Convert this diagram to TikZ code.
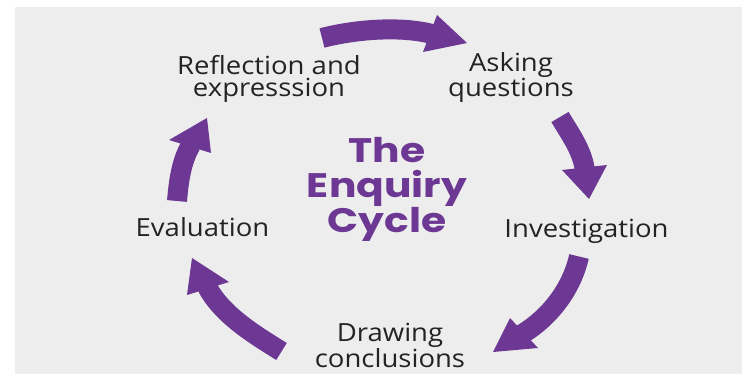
\documentclass[tikz,border=0pt]{standalone}
\usepackage{fontspec}
\newfontfamily\labfont[FakeStretch=1.1]{Open Sans}
\newfontfamily\titlefont[FakeStretch=1.2]{Poppins}
\definecolor{cpurple}{RGB}{108,56,147}
\definecolor{bgray}{RGB}{237,237,237}
\definecolor{txt}{RGB}{35,35,35}
\tikzset{
  shaft/.style={draw=cpurple,line width=20pt},
  head/.style={fill=cpurple},
  lab/.style={text=txt,inner sep=0pt,align=center,anchor=base,font=\labfont\fontsize{25}{22}\selectfont},
  ttl/.style={text=cpurple,inner sep=0pt,align=center,anchor=base,font=\titlefont\bfseries\fontsize{34}{35}\selectfont}
}
\begin{document}
\begin{tikzpicture}[x=1pt,y=-1pt]
\useasboundingbox (0,0) rectangle (742,374);
\fill[white] (0,0) rectangle (742,374);
\fill[bgray] (15,7) rectangle (742,374);

% labels (base anchor = baseline of last line)
\node[lab] (refl) at (269,97) {Reflection and\\expresssion};
\node[lab] (ask) at (511,97) {Asking\\questions};
\node[lab] (eval) at (202.5,237) {Evaluation};
\node[lab] (inv) at (586.5,238) {Investigation};
\node[lab] (draw) at (390,367) {Drawing\\conclusions};
\node[ttl] (title) at (387,233) {The\\Enquiry\\Cycle};

% arrow endpoints
\coordinate (a1t) at (322,38);   \coordinate (a1b) at (432,34);
\coordinate (a2t) at (560,117);  \coordinate (a2b) at (584.8,169.5);
\coordinate (a3t) at (579,256.5);\coordinate (a3b) at (522.3,334);
\coordinate (a4t) at (281.5,351.5); \coordinate (a4b) at (207.1,286.7);
\coordinate (a5t) at (177,201);  \coordinate (a5b) at (191,144.8);

% top arrow
\draw[shaft] (a1t) .. controls (353,29.9) and (399,25.5) .. (a1b);
\fill[head] (437,15) -- (467,43) -- (423,52) -- cycle;
% right upper arrow
\draw[shaft] (a2t) .. controls (569,132.5) and (582,149.7) .. (a2b);
\fill[head] (562,170) -- (589,199) -- (607,165) -- cycle;
% right lower arrow
\draw[shaft] (a3t) .. controls (572,287.6) and (551.3,316.3) .. (a3b);
\fill[head] (510,318) -- (493,352) -- (538,348) -- cycle;
% left lower arrow
\draw[shaft] (a4t) .. controls (254.3,334.5) and (222,315) .. (a4b);
\fill[head] (229,282) -- (192,258) -- (187,295) -- cycle;
% left upper arrow
\draw[shaft] (a5t) .. controls (178.6,183.1) and (180.8,162) .. (a5b);
\fill[head] (211,153) -- (207,118) -- (169,140) -- cycle;
\end{tikzpicture}
\end{document}
